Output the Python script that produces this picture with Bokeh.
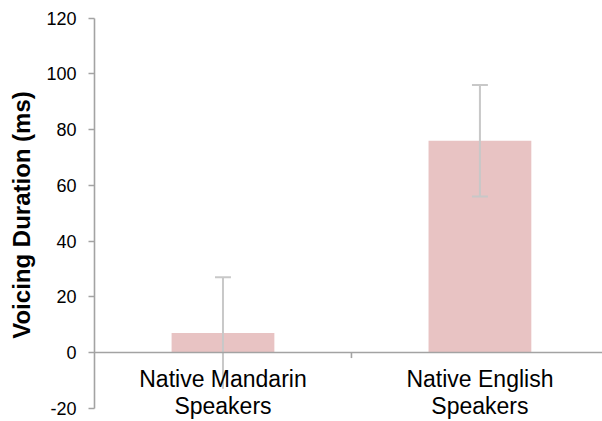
from bokeh.plotting import figure
from bokeh.models import Range1d, FixedTicker, Span, ColumnDataSource
from bokeh.core.properties import value
from bokeh.embed import file_html
from bokeh.resources import INLINE

# Mean voicing duration per speaker group, with +/- error
groups = ["Native Mandarin\nSpeakers", "Native English\nSpeakers"]
means = [7, 76]
errors = [20, 20]
y_ticks = [-20, 0, 20, 40, 60, 80, 100, 120]

bar_color = "#E8C3C3"
err_color = "#C8C8C8"
axis_color = "#A3A3A3"
font = "Liberation Sans"

xs = [i + 0.5 for i in range(len(groups))]
lows = [m - e for m, e in zip(means, errors)]
highs = [m + e for m, e in zip(means, errors)]

p = figure(width=602, height=421, output_backend="svg", toolbar_location=None,
           x_range=Range1d(0, 1.977), y_range=Range1d(-24.75, 123.41),
           x_axis_type=None, min_border_left=94, min_border_right=0,
           min_border_top=8, min_border_bottom=0)
p.outline_line_color = None
p.grid.visible = False
p.background_fill_color = "white"

# Bars
src = ColumnDataSource(dict(x=xs, top=means))
p.vbar(x="x", top="top", bottom=0, width=0.40, source=src,
       fill_color=bar_color, line_color=None)

# Horizontal category axis drawn at zero
p.add_layout(Span(location=0, dimension="width", line_color=axis_color,
                  line_width=1.6))
# Tick marks between categories
bounds = list(range(1, len(groups)))
p.segment(x0=bounds, x1=bounds, y0=[0] * len(bounds), y1=[-2.0] * len(bounds),
          line_color=axis_color, line_width=1.6)

# Error bars: stems, upper caps, lower caps where they stay above baseline
cap = 0.031
p.segment(x0=xs, x1=xs, y0=lows, y1=highs, line_color=err_color, line_width=2)
p.segment(x0=[x - cap for x in xs], x1=[x + cap for x in xs], y0=highs, y1=highs,
          line_color=err_color, line_width=2)
lo_x = [x for x, lo in zip(xs, lows) if lo >= 0]
lo_y = [lo for lo in lows if lo >= 0]
p.segment(x0=[x - cap for x in lo_x], x1=[x + cap for x in lo_x], y0=lo_y, y1=lo_y,
          line_color=err_color, line_width=2)

# Category labels below the zero line
p.text(x=xs, y=[0] * len(xs), text=groups, y_offset=13,
       text_align="center", text_baseline="top",
       text_font=value(font), text_font_size="23px", text_color="black",
       text_line_height=1.04)

# Value axis
ya = p.yaxis[0]
ya.ticker = FixedTicker(ticks=y_ticks)
ya.major_label_overrides = {t: str(t) for t in y_ticks}
ya.bounds = (-20, 120)
ya.axis_line_color = axis_color
ya.axis_line_width = 1.6
ya.major_tick_line_color = axis_color
ya.major_tick_line_width = 1.6
ya.major_tick_out = 6
ya.major_tick_in = 0
ya.minor_tick_line_color = None
ya.major_label_text_font = font
ya.major_label_text_font_size = "18px"
ya.major_label_text_color = "black"
ya.major_label_standoff = 12
ya.axis_label = "Voicing Duration (ms)"
ya.axis_label_text_font = font
ya.axis_label_text_font_size = "24px"
ya.axis_label_text_font_style = "bold"
ya.axis_label_text_color = "black"
ya.axis_label_standoff = 8

open("out.html", "w").write(file_html(p, INLINE))
